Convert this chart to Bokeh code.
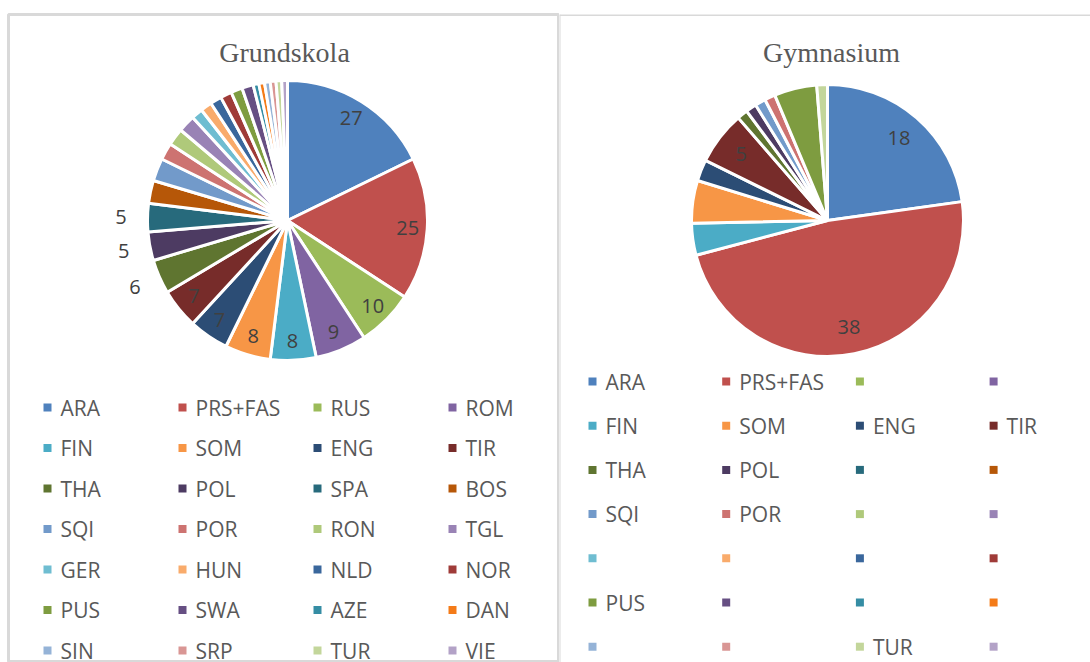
import numpy as np
from bokeh.plotting import figure
from bokeh.layouts import row
from bokeh.models import Range1d, ColumnDataSource, Span
from bokeh.core.properties import value
from bokeh.embed import file_html
from bokeh.resources import INLINE

# ---------------- data ----------------
categories = ["ARA", "PRS+FAS", "RUS", "ROM", "FIN", "SOM", "ENG", "TIR",
              "THA", "POL", "SPA", "BOS", "SQI", "POR", "RON", "TGL",
              "GER", "HUN", "NLD", "NOR", "PUS", "SWA", "AZE", "DAN",
              "SIN", "SRP", "TUR", "VIE"]
grundskola = [27, 25, 10, 9, 8, 8, 7, 7,
              6, 5, 5, 4, 4, 3, 3, 3,
              2, 2, 2, 2, 2, 2, 1, 1,
              1, 1, 1, 1]
gymnasium = [18, 38, 0, 0, 3, 4, 2, 5,
             1, 1, 0, 0, 1, 1, 0, 0,
             0, 0, 0, 0, 4, 0, 0, 0,
             0, 0, 1, 0]
gym_legend = ["ARA", "PRS+FAS", "", "", "FIN", "SOM", "ENG", "TIR",
              "THA", "POL", "", "", "SQI", "POR", "", "",
              "", "", "", "", "PUS", "", "", "",
              "", "", "TUR", ""]
colors = ["#4F81BD", "#C0504D", "#9BBB59", "#8064A2", "#4BACC6", "#F79646",
          "#2C4D75", "#772C2A", "#5F7530", "#4D3B62", "#276A7C", "#B65708",
          "#729ACA", "#CD7371", "#AFC97A", "#9983B5", "#6FBDD1", "#F9AB6B",
          "#3A679C", "#9F3B38", "#7E9C40", "#664F83", "#358DA4", "#F47B18",
          "#95B3D7", "#D99694", "#C3D69B", "#B3A2C7"]
titles = ["Grundskola", "Gymnasium"]

FONT = "Open Sans"
GREY = "#595959"
LABEL = "#404040"
BORDER = "#D9D9D9"


def make_panel(width, left_pad, title, vals, legend_labels, cx, cy, r,
               leg_x0, leg_dx, leg_y0, leg_dy, title_x, in_frac, out_frac,
               draw_outline):
    H = 648
    FW = width - left_pad
    p = figure(width=width, height=H + 14, output_backend="svg",
               toolbar_location=None, x_axis_type=None, y_axis_type=None,
               x_range=Range1d(0, FW), y_range=Range1d(0, H),
               min_border_left=left_pad, min_border_right=0,
               min_border_bottom=0, min_border_top=14)
    p.grid.visible = False
    p.background_fill_color = "white"
    p.border_fill_color = "white"
    if draw_outline:
        p.outline_line_color = BORDER
        p.outline_line_width = 3
    else:
        p.outline_line_color = None
        p.add_layout(Span(location=H, dimension="width",
                          line_color=BORDER, line_width=3))
        p.add_layout(Span(location=0, dimension="height",
                          line_color=BORDER, line_width=2))

    v = np.array(vals, dtype=float)
    total = v.sum()
    frac = v / total
    cum_end = np.cumsum(frac)
    cum_start = cum_end - frac
    start = np.pi / 2 - cum_start * 2 * np.pi
    end = np.pi / 2 - cum_end * 2 * np.pi
    mask = v > 0
    src = ColumnDataSource(dict(start=start[mask], end=end[mask],
                                color=[c for c, m in zip(colors, mask) if m]))
    p.wedge(x=cx, y=cy, radius=r, start_angle="start", end_angle="end",
            direction="clock", fill_color="color", line_color="white",
            line_width=3, source=src)

    # data labels
    mid = (start + end) / 2
    span_deg = frac * 360
    lx, ly, lt = [], [], []
    for i in range(len(v)):
        if v[i] >= 5:
            rr = r * (in_frac if span_deg[i] >= 15 else out_frac)
            lx.append(cx + rr * np.cos(mid[i]))
            ly.append(cy + rr * np.sin(mid[i]))
            lt.append(str(int(v[i])))
    p.text(x=lx, y=ly, text=lt, text_font=value(FONT),
           text_font_size="20px", text_color=LABEL,
           text_align="center", text_baseline="middle")

    # title
    p.text(x=[title_x], y=[610], text=[title],
           text_font=value("Liberation Serif"), text_font_size="28px",
           text_color=GREY, text_align="center", text_baseline="middle")

    # legend (4 columns)
    n = len(legend_labels)
    sx = [leg_x0 + leg_dx * (i % 4) for i in range(n)]
    sy = [leg_y0 - leg_dy * (i // 4) for i in range(n)]
    p.scatter(x=sx, y=sy, marker="square", size=8, fill_color=colors[:n],
              line_color=None)
    p.text(x=[x + 13 for x in sx], y=sy, text=legend_labels,
           text_font=value(FONT), text_font_size="21px", text_color=GREY,
           text_align="left", text_baseline="middle")
    return p


p1 = make_panel(559, 8, titles[0], grundskola, categories,
                cx=279, cy=442, r=140,
                leg_x0=39, leg_dx=135, leg_y0=255, leg_dy=40.5,
                title_x=276, in_frac=0.86, out_frac=1.19, draw_outline=True)
p2 = make_panel(531, 0, titles[1], gymnasium, gym_legend,
                cx=268, cy=442, r=136,
                leg_x0=33, leg_dx=133.7, leg_y0=281, leg_dy=44.2,
                title_x=272, in_frac=0.8, out_frac=1.19, draw_outline=False)

layout = row(p1, p2)
open("out.html", "w").write(file_html(layout, INLINE))
